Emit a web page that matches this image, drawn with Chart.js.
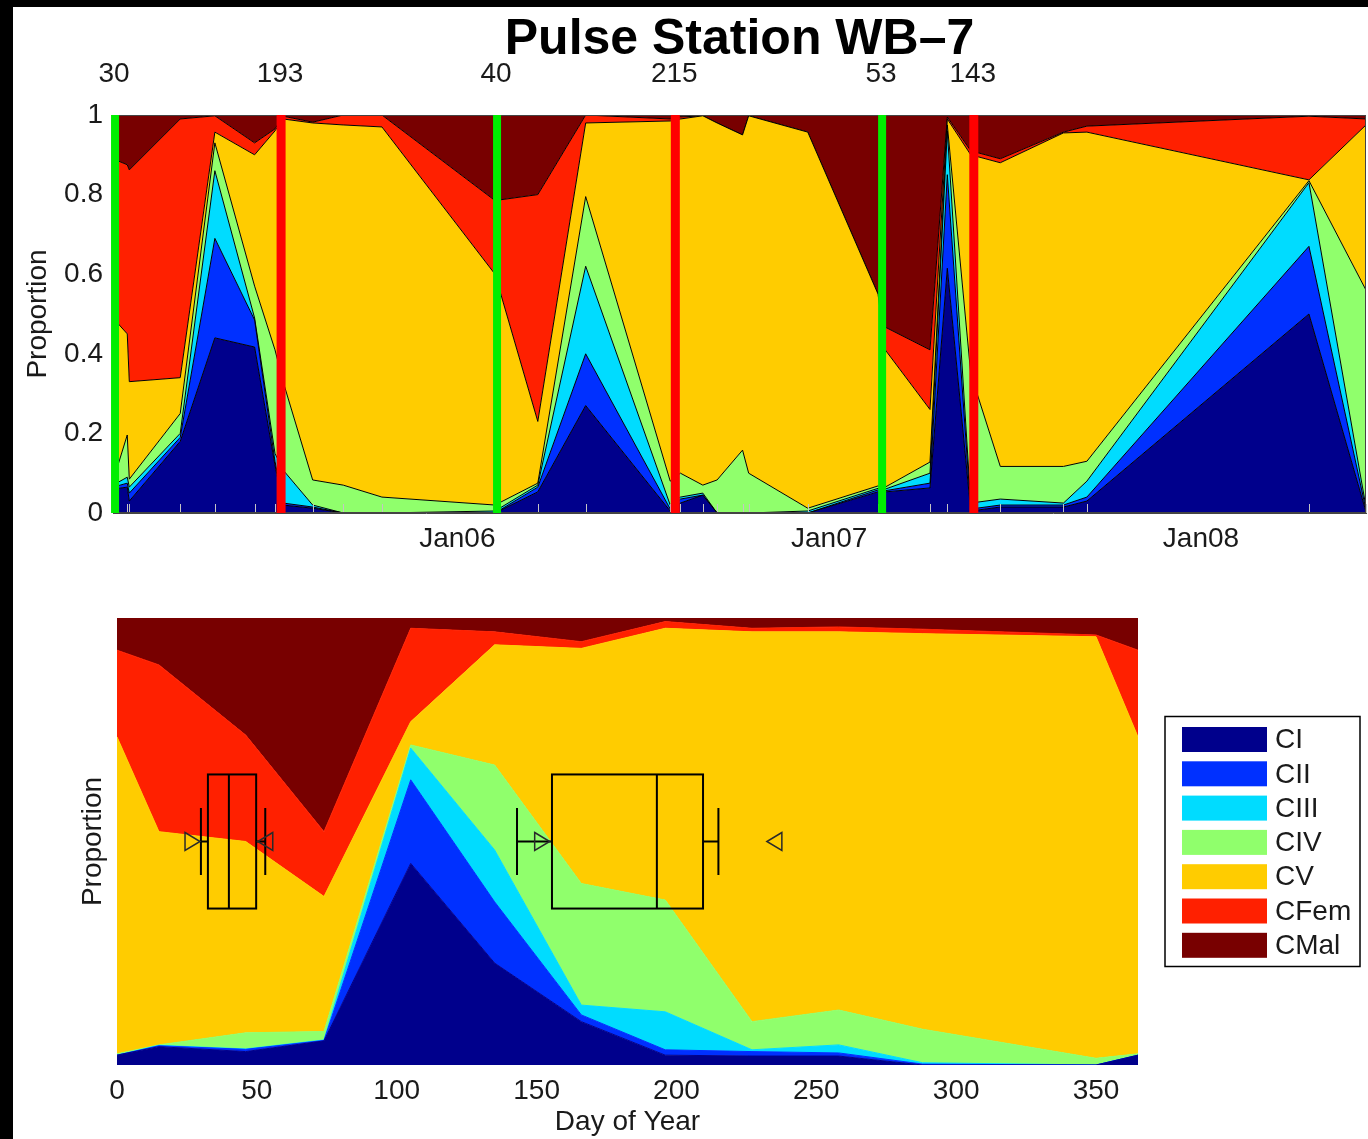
<!DOCTYPE html>
<html>
<head>
<meta charset="utf-8">
<script src="https://cdn.jsdelivr.net/npm/chart.js@4.4.1/dist/chart.umd.min.js"></script>
<style>
  html, body { margin: 0; padding: 0; background: #fff; }
  #page { position: relative; width: 1368px; height: 1139px; overflow: hidden; background: #fff; }
  #topWrap { position: absolute; left: 0; top: 0; }
  #botWrap { position: absolute; left: 0; top: 570px; }
  .edge { position: absolute; background: #000; }
</style>
</head>
<body>
<div id="page">
  <div id="topWrap"><canvas id="topChart" width="1368" height="570"></canvas></div>
  <div id="botWrap"><canvas id="botChart" width="1368" height="569"></canvas></div>
  <div class="edge" style="left:0;top:0;width:1368px;height:7px"></div>
  <div class="edge" style="left:0;top:0;width:13px;height:1139px"></div>
</div>
<script>
// class names, shared by both panels
const classNames = ['CI', 'CII', 'CIII', 'CIV', 'CV', 'CFem', 'CMal'];
const classColors = ['#00008c', '#0030ff', '#00dcff', '#90ff6c', '#ffcc00', '#ff2000', '#780000'];

// top panel: sampling dates and proportions of each stage
const sampleDates = ['2005-01-28', '2005-02-11', '2005-02-13', '2005-04-04', '2005-05-08', '2005-06-16',
  '2005-07-06', '2005-07-14', '2005-08-12', '2005-09-11', '2005-10-19', '2006-02-07', '2006-03-21',
  '2006-05-07', '2006-07-29', '2006-08-08', '2006-08-30', '2006-09-13', '2006-10-08', '2006-10-14',
  '2006-12-11', '2007-02-18', '2007-02-25', '2007-04-10', '2007-04-27', '2007-05-20', '2007-06-18',
  '2007-08-19', '2007-09-11', '2008-04-16', '2008-06-11'];
const topCI = [.06, .065, .03, .18, .44, .417, .12, .02, .012, 0, 0, 0, .053, .27, .005, .025, .045, 0, 0, 0, 0, .053, .053, .063, .615, .005, .015, .015, .03, .5, .003];
const topCII = [.005, .01, .02, .01, .25, .068, .01, .005, .003, 0, 0, 0, .012, .13, .005, .01, 0, 0, 0, 0, 0, .005, .003, .012, .235, .005, .005, .005, .01, .17, .005];
const topCIII = [.005, .015, .015, .01, .17, .005, .02, .083, .005, 0, 0, .005, .005, .22, .01, .005, .005, 0, 0, 0, .005, .004, .004, .025, .11, .015, .015, .005, .04, .16, .007];
const topCIV = [.01, .106, .02, .05, .07, .08, .26, .222, .063, .07, .04, .015, .005, .175, .06, .06, .02, .083, .158, .1, .007, .006, .005, .028, .015, .325, .082, .092, .05, .005, .545];
const topCV = [.41, .254, .245, .09, .027, .33, .55, .66, .897, .905, .93, .58, .155, .185, .905, .89, .928, .897, .792, .898, .945, .482, .345, .132, .015, .55, .763, .838, .827, .002, .415];
const topCFem = [.40, .425, .532, .65, .041, .03, .005, .007, .002, .025, .03, .185, .57, .02, .005, .005, 0, 0, 0, 0, 0, 0, .057, .15, .005, .01, .01, .002, .015, .16, .015];
const topCMal = [.11, .125, .138, .01, .002, .07, .035, .003, .018, 0, 0, .215, .2, 0, .01, .005, .002, .02, .05, .002, .043, .45, .533, .59, .005, .09, .11, .043, .028, .003, .01];

// year tick labels
const yearTickDates = ['2006-01-01', '2007-01-01', '2008-01-01'];
const yearTickLabels = ['Jan06', 'Jan07', 'Jan08'];

// marker lines (year, day of year)
const greenYears = [2005, 2006, 2007];
const greenDoy = [30, 40, 53];
const redYears = [2005, 2006, 2007];
const redDoy = [193, 215, 143];

// bottom panel: composite by day of year
const dayOfYear = [0, 15, 46, 74, 105, 135, 166, 196, 227, 258, 288, 350, 365];
const botCI = [.022, .041, .03, .054, .451, .228, .097, .022, .02, .02, 0, 0, .022];
const botCII = [0, .002, .005, .001, .187, .137, .015, .012, .01, .007, .002, 0, 0];
const botCIII = [0, .001, .001, .001, .071, .116, .022, .085, .004, .018, .003, 0, 0];
const botCIV = [.003, .001, .036, .019, .007, .19, .272, .25, .063, .078, .075, .015, .003];
const botCV = [.709, .477, .428, .302, .052, .269, .526, .608, .872, .846, .885, .943, .709];
const botCFem = [.194, .373, .238, .145, .209, .029, .015, .015, .008, .011, .01, .004, .194];
const botCMal = [.072, .105, .262, .478, .023, .031, .053, .008, .023, .02, .025, .038, .072];

// box plots of the marker days (green, red)
const boxWhiskerLo = [30, 143];
const boxQ1 = [32.5, 155.5];
const boxMedian = [40, 193];
const boxQ3 = [49.75, 209.5];
const boxWhiskerHi = [53, 215];
const boxNotchLo = [27, 152];
const boxNotchHi = [53, 235];

const FONT = "'Liberation Sans', Arial, Helvetica, sans-serif";
Chart.defaults.font.family = FONT;
Chart.defaults.font.size = 28;
Chart.defaults.color = '#1a1a1a';

const DAY = 864e5;
const base = Date.parse('2005-01-01');
const dayNum = s => (Date.parse(s) - base) / DAY;
const doyNum = (y, d) => (Date.UTC(y, 0, d) - base) / DAY;

const xDays = sampleDates.map(dayNum);
const topValues = [topCI, topCII, topCIII, topCIV, topCV, topCFem, topCMal];
const botValues = [botCI, botCII, botCIII, botCIV, botCV, botCFem, botCMal];

const markers = [];
greenYears.forEach((y, i) => markers.push({ d: doyNum(y, greenDoy[i]), label: String(greenDoy[i]), color: '#00ee00', w: 8 }));
redYears.forEach((y, i) => markers.push({ d: doyNum(y, redDoy[i]), label: String(redDoy[i]), color: '#ff0000', w: 9 }));
markers.sort((a, b) => a.d - b.d);

// small inward ticks at each sampling date
const sampleTicks = {
  id: 'sampleTicks',
  afterDatasetsDraw(chart) {
    const { ctx, chartArea: a, scales: { x } } = chart;
    ctx.save();
    ctx.strokeStyle = '#c4c4c4';
    ctx.lineWidth = 1;
    xDays.forEach(d => {
      const px = Math.round(x.getPixelForValue(d)) + 0.5;
      ctx.beginPath();
      ctx.moveTo(px, a.bottom);
      ctx.lineTo(px, a.bottom - 9);
      ctx.stroke();
    });
    ctx.restore();
  }
};

// green / red marker lines, with their day-of-year above the plot
const markerLines = {
  id: 'markerLines',
  afterDatasetsDraw(chart) {
    const { ctx, chartArea: a, scales: { x } } = chart;
    ctx.save();
    ctx.strokeStyle = '#444';
    ctx.lineWidth = 1;
    ctx.strokeRect(a.left + 0.5, a.top + 0.5, a.width - 1, a.height - 1);
    markers.forEach(m => {
      const px = x.getPixelForValue(m.d);
      ctx.fillStyle = m.color;
      ctx.fillRect(px - m.w / 2, a.top, m.w, a.height);
    });
    ctx.restore();
  },
  afterDraw(chart) {
    const { ctx, chartArea: a, scales: { x } } = chart;
    ctx.save();
    ctx.font = '28px ' + FONT;
    ctx.fillStyle = '#1a1a1a';
    ctx.textAlign = 'center';
    ctx.textBaseline = 'middle';
    markers.forEach(m => ctx.fillText(m.label, x.getPixelForValue(m.d) - 1, a.top - 41));
    ctx.restore();
  }
};

new Chart(document.getElementById('topChart'), {
  type: 'line',
  data: {
    datasets: classNames.map((name, i) => ({
      label: name,
      data: xDays.map((d, j) => ({ x: d, y: topValues[i][j] })),
      backgroundColor: classColors[i],
      borderColor: '#000',
      borderWidth: 1,
      pointRadius: 0,
      tension: 0,
      fill: i === 0 ? 'origin' : '-1'
    }))
  },
  options: {
    responsive: false,
    animation: false,
    layout: { padding: { right: 2 } },
    plugins: {
      legend: { display: false },
      tooltip: { enabled: false },
      title: {
        display: true,
        text: 'Pulse Station WB\u20137',
        fullSize: false,
        color: '#000',
        font: { size: 50, weight: 'bold' },
        padding: { top: 10, bottom: 45 }
      }
    },
    scales: {
      x: {
        type: 'linear',
        position: 'bottom',
        min: xDays[0],
        max: xDays[xDays.length - 1],
        grid: { display: false, drawTicks: false },
        border: { display: true, color: '#444' },
        afterBuildTicks: s => { s.ticks = yearTickDates.map(t => ({ value: dayNum(t) })); },
        afterFit: s => { s.height = 57; },
        ticks: {
          padding: 9,
          autoSkip: false,
          maxRotation: 0,
          callback: (v, i) => yearTickLabels[i]
        }
      },
      y: {
        stacked: true,
        min: 0,
        max: 1,
        grid: { display: false, drawTicks: false },
        border: { display: true, color: '#444' },
        afterFit: s => { s.width = 113; },
        ticks: { stepSize: 0.2, padding: 10, callback: v => +v.toFixed(1) },
        title: { display: true, text: 'Proportion', padding: { top: 21, bottom: 0 } }
      }
    }
  },
  plugins: [sampleTicks, markerLines]
});

// box plots over the composite panel
const boxPlots = {
  id: 'boxPlots',
  afterDatasetsDraw(chart) {
    const { ctx, scales: { x, y } } = chart;
    const yTop = y.getPixelForValue(0.65), yBot = y.getPixelForValue(0.35);
    const cTop = y.getPixelForValue(0.575), cBot = y.getPixelForValue(0.425);
    const yMid = y.getPixelForValue(0.5);
    ctx.save();
    ctx.strokeStyle = '#000';
    ctx.lineWidth = 2;
    boxMedian.forEach((m, i) => {
      const q1 = x.getPixelForValue(boxQ1[i]), q3 = x.getPixelForValue(boxQ3[i]);
      const md = x.getPixelForValue(m);
      const wl = x.getPixelForValue(boxWhiskerLo[i]), wh = x.getPixelForValue(boxWhiskerHi[i]);
      ctx.strokeRect(q1, yTop, q3 - q1, yBot - yTop);
      ctx.beginPath();
      ctx.moveTo(md, yTop); ctx.lineTo(md, yBot);
      ctx.moveTo(wl, yMid); ctx.lineTo(q1, yMid);
      ctx.moveTo(q3, yMid); ctx.lineTo(wh, yMid);
      ctx.moveTo(wl, cTop); ctx.lineTo(wl, cBot);
      ctx.moveTo(wh, cTop); ctx.lineTo(wh, cBot);
      ctx.stroke();
    });
    ctx.strokeStyle = '#2a2a2a';
    ctx.lineWidth = 1.5;
    boxNotchLo.forEach((n, i) => {
      const a = x.getPixelForValue(n), b = x.getPixelForValue(boxNotchHi[i]);
      ctx.beginPath();
      ctx.moveTo(a - 7.5, yMid - 9); ctx.lineTo(a + 7.5, yMid); ctx.lineTo(a - 7.5, yMid + 9); ctx.closePath();
      ctx.moveTo(b + 7.5, yMid - 9); ctx.lineTo(b - 7.5, yMid); ctx.lineTo(b + 7.5, yMid + 9); ctx.closePath();
      ctx.stroke();
    });
    ctx.restore();
  }
};

const boxLegend = {
  id: 'boxLegend',
  afterDraw(chart) {
    const { ctx, chartArea: a } = chart;
    const left = a.right + 27, w = 195, h = 250;
    const top = (a.top + a.bottom) / 2 - h / 2;
    ctx.save();
    ctx.strokeStyle = '#000';
    ctx.lineWidth = 1.5;
    ctx.strokeRect(left, top, w, h);
    ctx.font = '28px ' + FONT;
    ctx.textBaseline = 'middle';
    classNames.forEach((name, i) => {
      const cy = top + 23 + i * 34.3;
      ctx.fillStyle = classColors[i];
      ctx.fillRect(left + 17, cy - 12.5, 85, 25);
      ctx.fillStyle = '#1a1a1a';
      ctx.fillText(name, left + 110, cy + 1);
    });
    ctx.restore();
  }
};

new Chart(document.getElementById('botChart'), {
  type: 'line',
  data: {
    datasets: classNames.map((name, i) => ({
      label: name,
      data: dayOfYear.map((d, j) => ({ x: d, y: botValues[i][j] })),
      backgroundColor: classColors[i],
      borderColor: classColors[i],
      borderWidth: 1,
      pointRadius: 0,
      tension: 0,
      fill: i === 0 ? 'origin' : '-1'
    }))
  },
  options: {
    responsive: false,
    animation: false,
    layout: { padding: { top: 48, right: 230 } },
    plugins: { legend: { display: false }, tooltip: { enabled: false } },
    scales: {
      x: {
        type: 'linear',
        min: 0,
        max: 365,
        grid: { display: false, drawTicks: false },
        border: { display: false },
        afterFit: s => { s.height = 74; },
        ticks: { stepSize: 50, includeBounds: false, padding: 9, maxRotation: 0 },
        title: { display: true, text: 'Day of Year', padding: { top: 0, bottom: 0 } }
      },
      y: {
        stacked: true,
        min: 0,
        max: 1,
        grid: { display: false, drawTicks: false },
        border: { display: false },
        afterFit: s => { s.width = 117; },
        ticks: { display: false },
        title: { display: true, text: 'Proportion', padding: { top: 76, bottom: 0 } }
      }
    }
  },
  plugins: [boxPlots, boxLegend]
});
</script>
</body>
</html>
